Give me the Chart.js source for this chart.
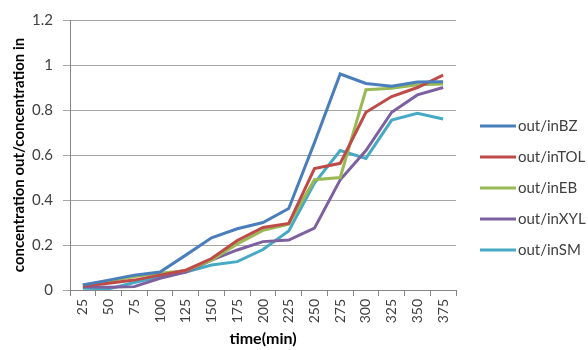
<!DOCTYPE html>
<html>
<head>
<meta charset="utf-8">
<script src="https://cdn.jsdelivr.net/npm/chart.js@4/dist/chart.umd.min.js"></script>
<style>
  html, body { margin: 0; padding: 0; background: #fff; }
  #wrap { width: 588px; height: 350px; }
</style>
</head>
<body>
<div id="wrap"><canvas id="c" width="588" height="350"></canvas></div>
<script>
// Sampling times (min)
const times = ['25','50','75','100','125','150','175','200','225','250','275','300','325','350','375'];

// Outlet / inlet concentration ratios per compound
const bz  = [0.022, 0.044, 0.066, 0.080, 0.155, 0.232, 0.272, 0.300, 0.362, 0.655, 0.960, 0.918, 0.906, 0.924, 0.926];
const tol = [0.018, 0.030, 0.044, 0.066, 0.088, 0.140, 0.220, 0.278, 0.296, 0.540, 0.563, 0.790, 0.860, 0.900, 0.955];
const eb  = [0.022, 0.040, 0.060, 0.075, 0.086, 0.133, 0.205, 0.265, 0.293, 0.490, 0.500, 0.890, 0.897, 0.912, 0.915];
const xyl = [0.014, 0.012, 0.015, 0.052, 0.080, 0.133, 0.178, 0.215, 0.222, 0.275, 0.490, 0.620, 0.790, 0.867, 0.900];
const sm  = [0.008, 0.005, 0.033, 0.060, 0.080, 0.111, 0.126, 0.180, 0.262, 0.475, 0.620, 0.585, 0.755, 0.785, 0.760];

const seriesNames = ['out/inBZ', 'out/inTOL', 'out/inEB', 'out/inXYL', 'out/inSM'];
const seriesColors = ['#4A7EBB', '#BE4B48', '#98B954', '#7D60A0', '#46AAC5'];
const seriesData = [bz, tol, eb, xyl, sm];

const FONT = "Lato, 'Open Sans', 'Liberation Sans', sans-serif";
const TEXT = '#404040';

// Legend drawn at the right of the plot, one swatch line per series
const sideLegend = {
  id: 'sideLegend',
  afterDraw(chart) {
    const ctx = chart.ctx;
    ctx.save();
    chart.data.datasets.forEach((ds, i) => {
      const y = 126 + i * 31;
      ctx.strokeStyle = ds.borderColor;
      ctx.lineWidth = 3;
      ctx.beginPath();
      ctx.moveTo(480, y);
      ctx.lineTo(516, y);
      ctx.stroke();
      ctx.fillStyle = TEXT;
      ctx.font = '15px ' + FONT;
      ctx.textBaseline = 'middle';
      ctx.textAlign = 'left';
      ctx.fillText(ds.label, 518, y);
    });
    ctx.restore();
  }
};

new Chart(document.getElementById('c'), {
  type: 'line',
  data: {
    labels: times,
    datasets: seriesNames.map((name, i) => ({
      label: name,
      data: seriesData[i],
      borderColor: seriesColors[i],
      backgroundColor: seriesColors[i],
      borderWidth: 3,
      pointRadius: 0,
      tension: 0,
      fill: false
    }))
  },
  options: {
    responsive: false,
    animation: false,
    layout: { padding: { left: 0, right: 132, top: 20, bottom: 0 } },
    plugins: { legend: { display: false }, tooltip: { enabled: false } },
    scales: {
      x: {
        offset: true,
        grid: { offset: true, drawOnChartArea: false, drawTicks: true, tickLength: 6, color: '#868686' },
        border: { color: '#868686' },
        ticks: { maxRotation: 90, minRotation: 90, autoSkip: false, color: TEXT, font: { family: FONT, size: 14 }, padding: 3 },
        title: { display: true, text: 'time(min)', color: '#000', font: { family: FONT, size: 16, weight: 'bold' }, padding: { top: 4, bottom: 2 } },
        afterFit(scale) { scale.height = 60; }
      },
      y: {
        min: 0, max: 1.2,
        ticks: { stepSize: 0.2, color: TEXT, font: { family: FONT, size: 15 }, padding: 10,
          callback: v => Math.round(v * 10) / 10 },
        grid: { color: '#a6a6a6', tickLength: 7 },
        border: { color: '#868686' },
        title: { display: true, text: 'concentration out/concentration in', color: '#000', font: { family: FONT, size: 15, weight: 'bold' }, padding: { top: 10, bottom: 0 } },
        afterFit(scale) { scale.width = 70; }
      }
    }
  },
  plugins: [sideLegend]
});
</script>
</body>
</html>
